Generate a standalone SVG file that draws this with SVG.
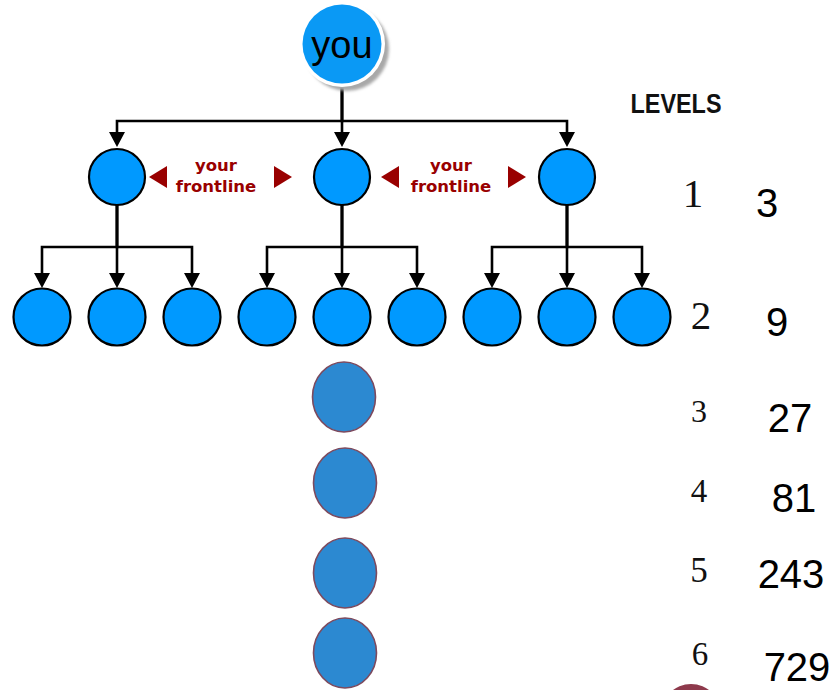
<svg xmlns="http://www.w3.org/2000/svg" width="835" height="690" viewBox="0 0 835 690">
<style>
.node{fill:#0099ff;stroke:#000;stroke-width:2.2}
.dot{fill:#2c89d1;stroke:#7d4a5e;stroke-width:1.6}
.conn{fill:none;stroke:#000;stroke-width:2.6;marker-end:url(#ah)}
.fl{font-family:"DejaVu Sans",Verdana,sans-serif;font-weight:bold;font-size:16.5px;fill:#990000;text-anchor:middle}
.tri{fill:#990000}
.lvl{font-family:"Liberation Serif","Times New Roman",serif;fill:#111;text-anchor:middle}
.cnt{font-family:"Liberation Sans",Arial,sans-serif;fill:#000;text-anchor:middle;font-size:40px}
</style>
<defs>
<marker id="ah" viewBox="0 0 15 16" refX="8" refY="8" markerWidth="15" markerHeight="16" markerUnits="userSpaceOnUse" orient="auto">
<path d="M0,0 L15,8 L0,16 z" fill="#000"/>
</marker>
<filter id="sh" x="-20%" y="-20%" width="140%" height="140%">
<feGaussianBlur stdDeviation="1.5"/>
</filter>
</defs>
<rect width="835" height="690" fill="#fff"/>

<g id="connectors">
<path class="conn" d="M342,86 V121 H117 V140"/>
<path class="conn" d="M342,86 V140"/>
<path class="conn" d="M342,86 V121 H567 V140"/>
<path class="conn" d="M117,205 V247 H42 V281"/>
<path class="conn" d="M117,205 V281"/>
<path class="conn" d="M117,205 V247 H192 V281"/>
<path class="conn" d="M342,205 V247 H267 V281"/>
<path class="conn" d="M342,205 V281"/>
<path class="conn" d="M342,205 V247 H417 V281"/>
<path class="conn" d="M567,205 V247 H492 V281"/>
<path class="conn" d="M567,205 V281"/>
<path class="conn" d="M567,205 V247 H642 V281"/>
</g>

<g id="you">
<circle cx="347" cy="49" r="42" fill="#a8a8a8" filter="url(#sh)"/>
<circle cx="342" cy="44" r="43" fill="#fff"/>
<circle cx="342" cy="44" r="39.5" fill="#0a99f5"/>
<text x="342" y="58" font-family="Liberation Sans,Arial,sans-serif" font-size="38" text-anchor="middle" fill="#000">you</text>
</g>

<g id="l1a"><circle class="node" cx="117" cy="177" r="28"/></g>
<g id="l1b"><circle class="node" cx="342" cy="177" r="28"/></g>
<g id="l1c"><circle class="node" cx="567" cy="177" r="28"/></g>

<g id="frontline1">
<polygon class="tri" points="149,177 167,166 167,188"/>
<text class="fl" x="216" y="171">your</text>
<text class="fl" x="216" y="192">frontline</text>
<polygon class="tri" points="292,177 274,166 274,188"/>
</g>
<g id="frontline2">
<polygon class="tri" points="381,177 399,166 399,188"/>
<text class="fl" x="451" y="171">your</text>
<text class="fl" x="451" y="192">frontline</text>
<polygon class="tri" points="526,177 508,166 508,188"/>
</g>

<g id="l2a"><circle class="node" cx="42" cy="317" r="28.5"/></g>
<g id="l2b"><circle class="node" cx="117" cy="317" r="28.5"/></g>
<g id="l2c"><circle class="node" cx="192" cy="317" r="28.5"/></g>
<g id="l2d"><circle class="node" cx="267" cy="317" r="28.5"/></g>
<g id="l2e"><circle class="node" cx="342" cy="317" r="28.5"/></g>
<g id="l2f"><circle class="node" cx="417" cy="317" r="28.5"/></g>
<g id="l2g"><circle class="node" cx="492" cy="317" r="28.5"/></g>
<g id="l2h"><circle class="node" cx="567" cy="317" r="28.5"/></g>
<g id="l2i"><circle class="node" cx="642" cy="317" r="28.5"/></g>

<g id="l3"><ellipse class="dot" cx="344" cy="397" rx="31.5" ry="35"/></g>
<g id="l4"><ellipse class="dot" cx="345" cy="483" rx="31.5" ry="35"/></g>
<g id="l5"><ellipse class="dot" cx="345" cy="573" rx="31.5" ry="35"/></g>
<g id="l6"><ellipse class="dot" cx="345" cy="653" rx="31.5" ry="35"/></g>

<circle cx="691" cy="714" r="30" fill="#8e3a4c"/>

<g id="levels">
<text x="676" y="113" font-family="Liberation Sans,Arial,sans-serif" font-weight="bold" font-size="27" textLength="91" lengthAdjust="spacingAndGlyphs" text-anchor="middle" fill="#111">LEVELS</text>
<text class="lvl" x="693" y="207" font-size="41">1</text>
<text class="lvl" x="701" y="329" font-size="41">2</text>
<text class="lvl" x="699" y="422" font-size="32">3</text>
<text class="lvl" x="699" y="502" font-size="33">4</text>
<text class="lvl" x="699" y="582" font-size="35">5</text>
<text class="lvl" x="700" y="665" font-size="33">6</text>
<text class="cnt" x="767" y="217" font-size="43">3</text>
<text class="cnt" x="777" y="336" font-size="43">9</text>
<text class="cnt" x="790" y="432">27</text>
<text class="cnt" x="794" y="512">81</text>
<text class="cnt" x="791" y="588">243</text>
<text class="cnt" x="797" y="681" font-size="37">729</text>
</g>
</svg>
